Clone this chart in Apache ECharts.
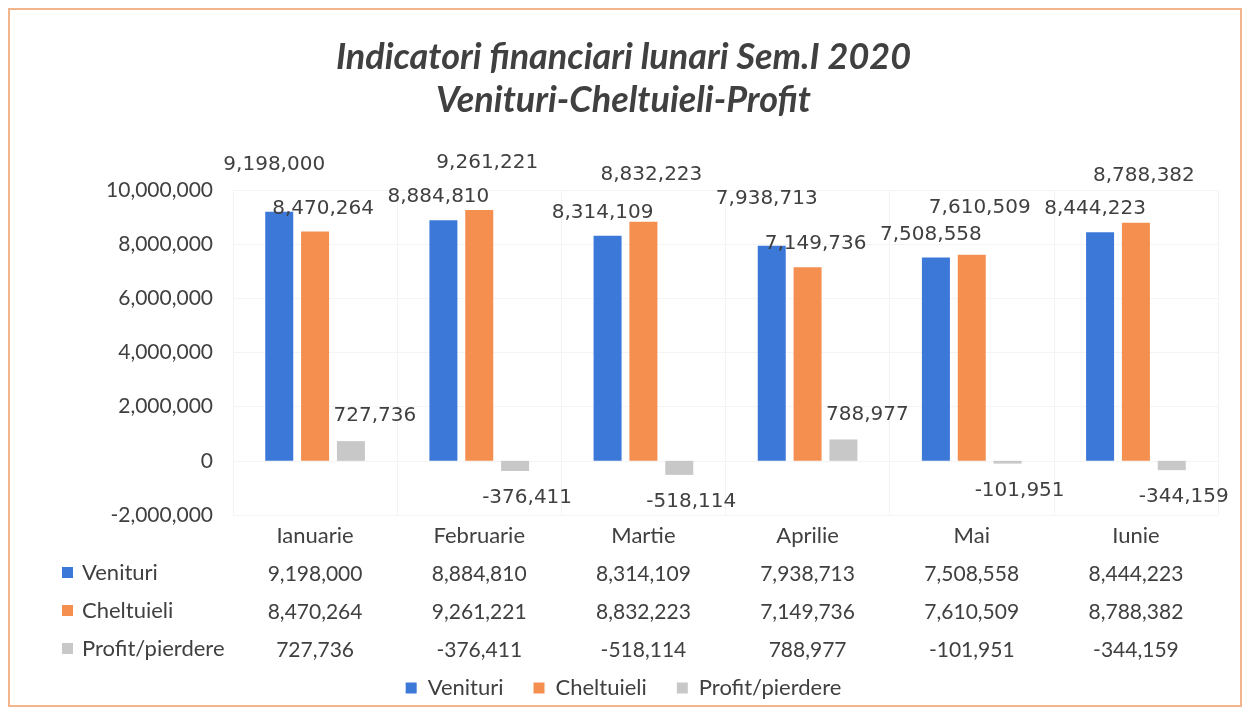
<!DOCTYPE html>
<html>
<head>
<meta charset="utf-8">
<script src="https://cdn.jsdelivr.net/npm/echarts@6/dist/echarts.min.js"></script>
<style>
  html, body { margin: 0; padding: 0; background: #fff; }
  #chart { width: 1247px; height: 712px; }
</style>
</head>
<body>
<div id="chart"></div>
<script>
// luni si valori
var luni = ['Ianuarie', 'Februarie', 'Martie', 'Aprilie', 'Mai', 'Iunie'];
var venituri = [9198000, 8884810, 8314109, 7938713, 7508558, 8444223];
var cheltuieli = [8470264, 9261221, 8832223, 7149736, 7610509, 8788382];
var profit = [727736, -376411, -518114, 788977, -101951, -344159];
var serii = ['Venituri', 'Cheltuieli', 'Profit/pierdere'];
var culori = ['#3c78d8', '#f58f4f', '#c8c8c8'];
var yTicks = [-2000000, 0, 2000000, 4000000, 6000000, 8000000, 10000000];

var fmt = function (v) { return v.toLocaleString('en-US'); };
var font = 'Lato, "Open Sans", sans-serif';
var labelFont = '"DejaVu Sans", Verdana, sans-serif';
var txt = '#404040';

var chart = echarts.init(document.getElementById('chart'));

// eticheta barei mai inalte urca deasupra celeilalte (ca in Excel)
function barData(vals, other, dx) {
    return vals.map(function (v, i) {
        var taller = v > other[i];
        return { value: v, label: { offset: [dx, taller ? -32 : -8] } };
    });
}

var profitData = profit.map(function (v) {
    return v >= 0
        ? { value: v, label: { position: 'top', offset: [24, -10] } }
        : { value: v, label: { position: 'bottom', offset: [12, 12] } };
});

var valueLabel = {
    show: true,
    position: 'top',
    color: txt,
    fontFamily: labelFont,
    fontSize: 20,
    formatter: function (p) { return fmt(p.value); }
};

// antet randuri tabel (stanga)
var rowHeaders = serii.map(function (name, i) {
    var y = 573 + i * 38;
    return {
        type: 'group',
        children: [
            { type: 'rect', shape: { x: 62, y: y - 6, width: 11, height: 11 }, style: { fill: culori[i] } },
            { type: 'text', style: { x: 82, y: y, text: name, fill: txt, font: '22px ' + font, textVerticalAlign: 'middle' } }
        ]
    };
});

chart.setOption({
    animation: false,
    title: {
        text: 'Indicatori financiari lunari Sem.I 2020\nVenituri-Cheltuieli-Profit',
        left: 'center',
        top: 31,
        textStyle: {
            fontFamily: font,
            fontSize: 36,
            fontWeight: 'bold',
            fontStyle: 'italic',
            color: txt,
            lineHeight: 43
        }
    },
    legend: {
        data: serii,
        bottom: 8,
        left: 'center',
        icon: 'rect',
        itemWidth: 11,
        itemHeight: 11,
        itemGap: 30,
        textStyle: { fontFamily: font, fontSize: 22, color: txt, padding: [0, 0, 0, 6] }
    },
    grid: {
        left: 233,
        right: 29,
        top: 190,
        bottom: 197
    },
    xAxis: {
        type: 'category',
        data: luni,
        axisLine: { show: false },
        axisTick: { show: false },
        splitLine: { show: true, lineStyle: { color: '#f3f3f3' } },
        axisLabel: {
            margin: 2,
            interval: 0,
            formatter: function (val, idx) {
                return '{c|' + val + '}\n{v|' + fmt(venituri[idx]) + '}\n{v|' + fmt(cheltuieli[idx]) + '}\n{v|' + fmt(profit[idx]) + '}';
            },
            rich: {
                c: { fontFamily: font, fontSize: 22, color: txt, lineHeight: 38 },
                v: { fontFamily: font, fontSize: 21, color: txt, lineHeight: 38 }
            }
        }
    },
    yAxis: {
        type: 'value',
        min: yTicks[0],
        max: yTicks[yTicks.length - 1],
        interval: 2000000,
        axisLine: { show: false },
        axisTick: { show: false },
        splitLine: { lineStyle: { color: '#f4f4f4' } },
        axisLabel: {
            margin: 20,
            fontFamily: font,
            fontSize: 21,
            color: txt,
            formatter: function (v) { return fmt(v); }
        }
    },
    series: [
        {
            name: serii[0],
            type: 'bar',
            barWidth: 28,
            barGap: '28%',
            itemStyle: { color: culori[0] },
            label: valueLabel,
            data: barData(venituri, cheltuieli, -5)
        },
        {
            name: serii[1],
            type: 'bar',
            barWidth: 28,
            barGap: '28%',
            itemStyle: { color: culori[1] },
            label: valueLabel,
            data: barData(cheltuieli, venituri, 8)
        },
        {
            name: serii[2],
            type: 'bar',
            barWidth: 28,
            barGap: '28%',
            itemStyle: { color: culori[2] },
            label: valueLabel,
            data: profitData
        }
    ],
    graphic: [
        {
            type: 'rect',
            shape: { x: 9, y: 9, width: 1232, height: 697 },
            style: { fill: 'none', stroke: '#f2b48a', lineWidth: 2 },
            silent: true
        }
    ].concat(rowHeaders)
});
</script>
</body>
</html>
